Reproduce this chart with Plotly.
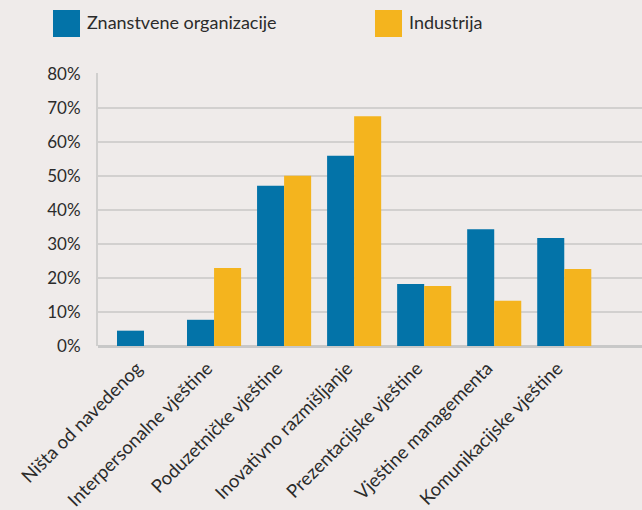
import plotly.graph_objects as go

categories = ["Ništa od navedenog", "Interpersonalne vještine", "Poduzetničke vještine",
              "Inovativno razmišljanje", "Prezentacijske vještine", "Vještine managementa",
              "Komunikacijske vještine"]
znanstvene = [4.5, 7.7, 47.1, 55.9, 18.2, 34.3, 31.7]
industrija = [None, 22.9, 50.0, 67.5, 17.6, 13.3, 22.6]
y_ticks = [0, 10, 20, 30, 40, 50, 60, 70, 80]
y_tick_labels = [f"{v}%" for v in y_ticks]

BLUE = "#0373a8"
YELLOW = "#f4b41e"
BG = "#efebea"
FONT = "Lato"

idx = list(range(len(categories)))

fig = go.Figure()
fig.add_trace(go.Bar(x=idx, y=znanstvene, name="Znanstvene organizacije",
                     marker=dict(color=BLUE, line=dict(width=0))))
fig.add_trace(go.Bar(x=idx, y=industrija, name="Industrija",
                     marker=dict(color=YELLOW, line=dict(width=0))))
# invisible trace carrying the category labels on an overlaid axis (labels sit slightly left of bars)
fig.add_trace(go.Scatter(x=idx, y=[0] * len(idx), xaxis="x2", mode="markers",
                         marker=dict(opacity=0), hoverinfo="skip", showlegend=False))

fig.update_layout(
    width=642, height=510,
    paper_bgcolor=BG, plot_bgcolor=BG,
    margin=dict(l=98, r=0, t=73, b=164),
    barmode="group", bargap=0.228, bargroupgap=0,
    showlegend=False,
    font=dict(family=FONT, color="#2b2b2b"),
    xaxis=dict(range=[-0.657, 7.11], showticklabels=False, automargin=False,
               showgrid=False, zeroline=False, showline=False, ticks=""),
    xaxis2=dict(overlaying="x", side="bottom", anchor="y", automargin=False,
                range=[-0.557, 7.21],
                tickmode="array", tickvals=idx, ticktext=categories,
                tickangle=-45, tickfont=dict(size=18.5, color="#2b2b2b"),
                showgrid=False, zeroline=False, showline=False, ticks="",
                ticklabelstandoff=7),
)
fig.update_yaxes(
    range=[0, 80.2], automargin=False,
    tickmode="array", tickvals=y_ticks, ticktext=y_tick_labels,
    tickfont=dict(size=17, color="#2b2b2b"),
    showgrid=True, gridcolor="#d2d0cf", gridwidth=1.5,
    zeroline=True, zerolinecolor="#c8c8c8", zerolinewidth=2.5,
    showline=True, linecolor="#d0cfce", linewidth=2,
    ticks="", ticklabelstandoff=12,
)

# Legend drawn manually
legend_items = [("Znanstvene organizacije", BLUE, 53), ("Industrija", YELLOW, 375)]
for label, color, x0 in legend_items:
    fig.add_shape(type="rect", xref="paper", yref="paper",
                  x0=(x0 - 98) / 544, x1=(x0 + 27 - 98) / 544,
                  y0=(346 - 37) / 273, y1=(346 - 10) / 273,
                  fillcolor=color, line=dict(width=0), layer="above")
    fig.add_annotation(text=label, xref="paper", yref="paper",
                       x=(x0 + 32 - 98) / 544, y=(346 - 21.5) / 273,
                       xanchor="left", yanchor="middle", showarrow=False,
                       font=dict(family=FONT, size=18, color="#2b2b2b"))

fig.write_html("out.html", post_script="document.body.style.margin='0';",
               config={"displayModeBar": False})
